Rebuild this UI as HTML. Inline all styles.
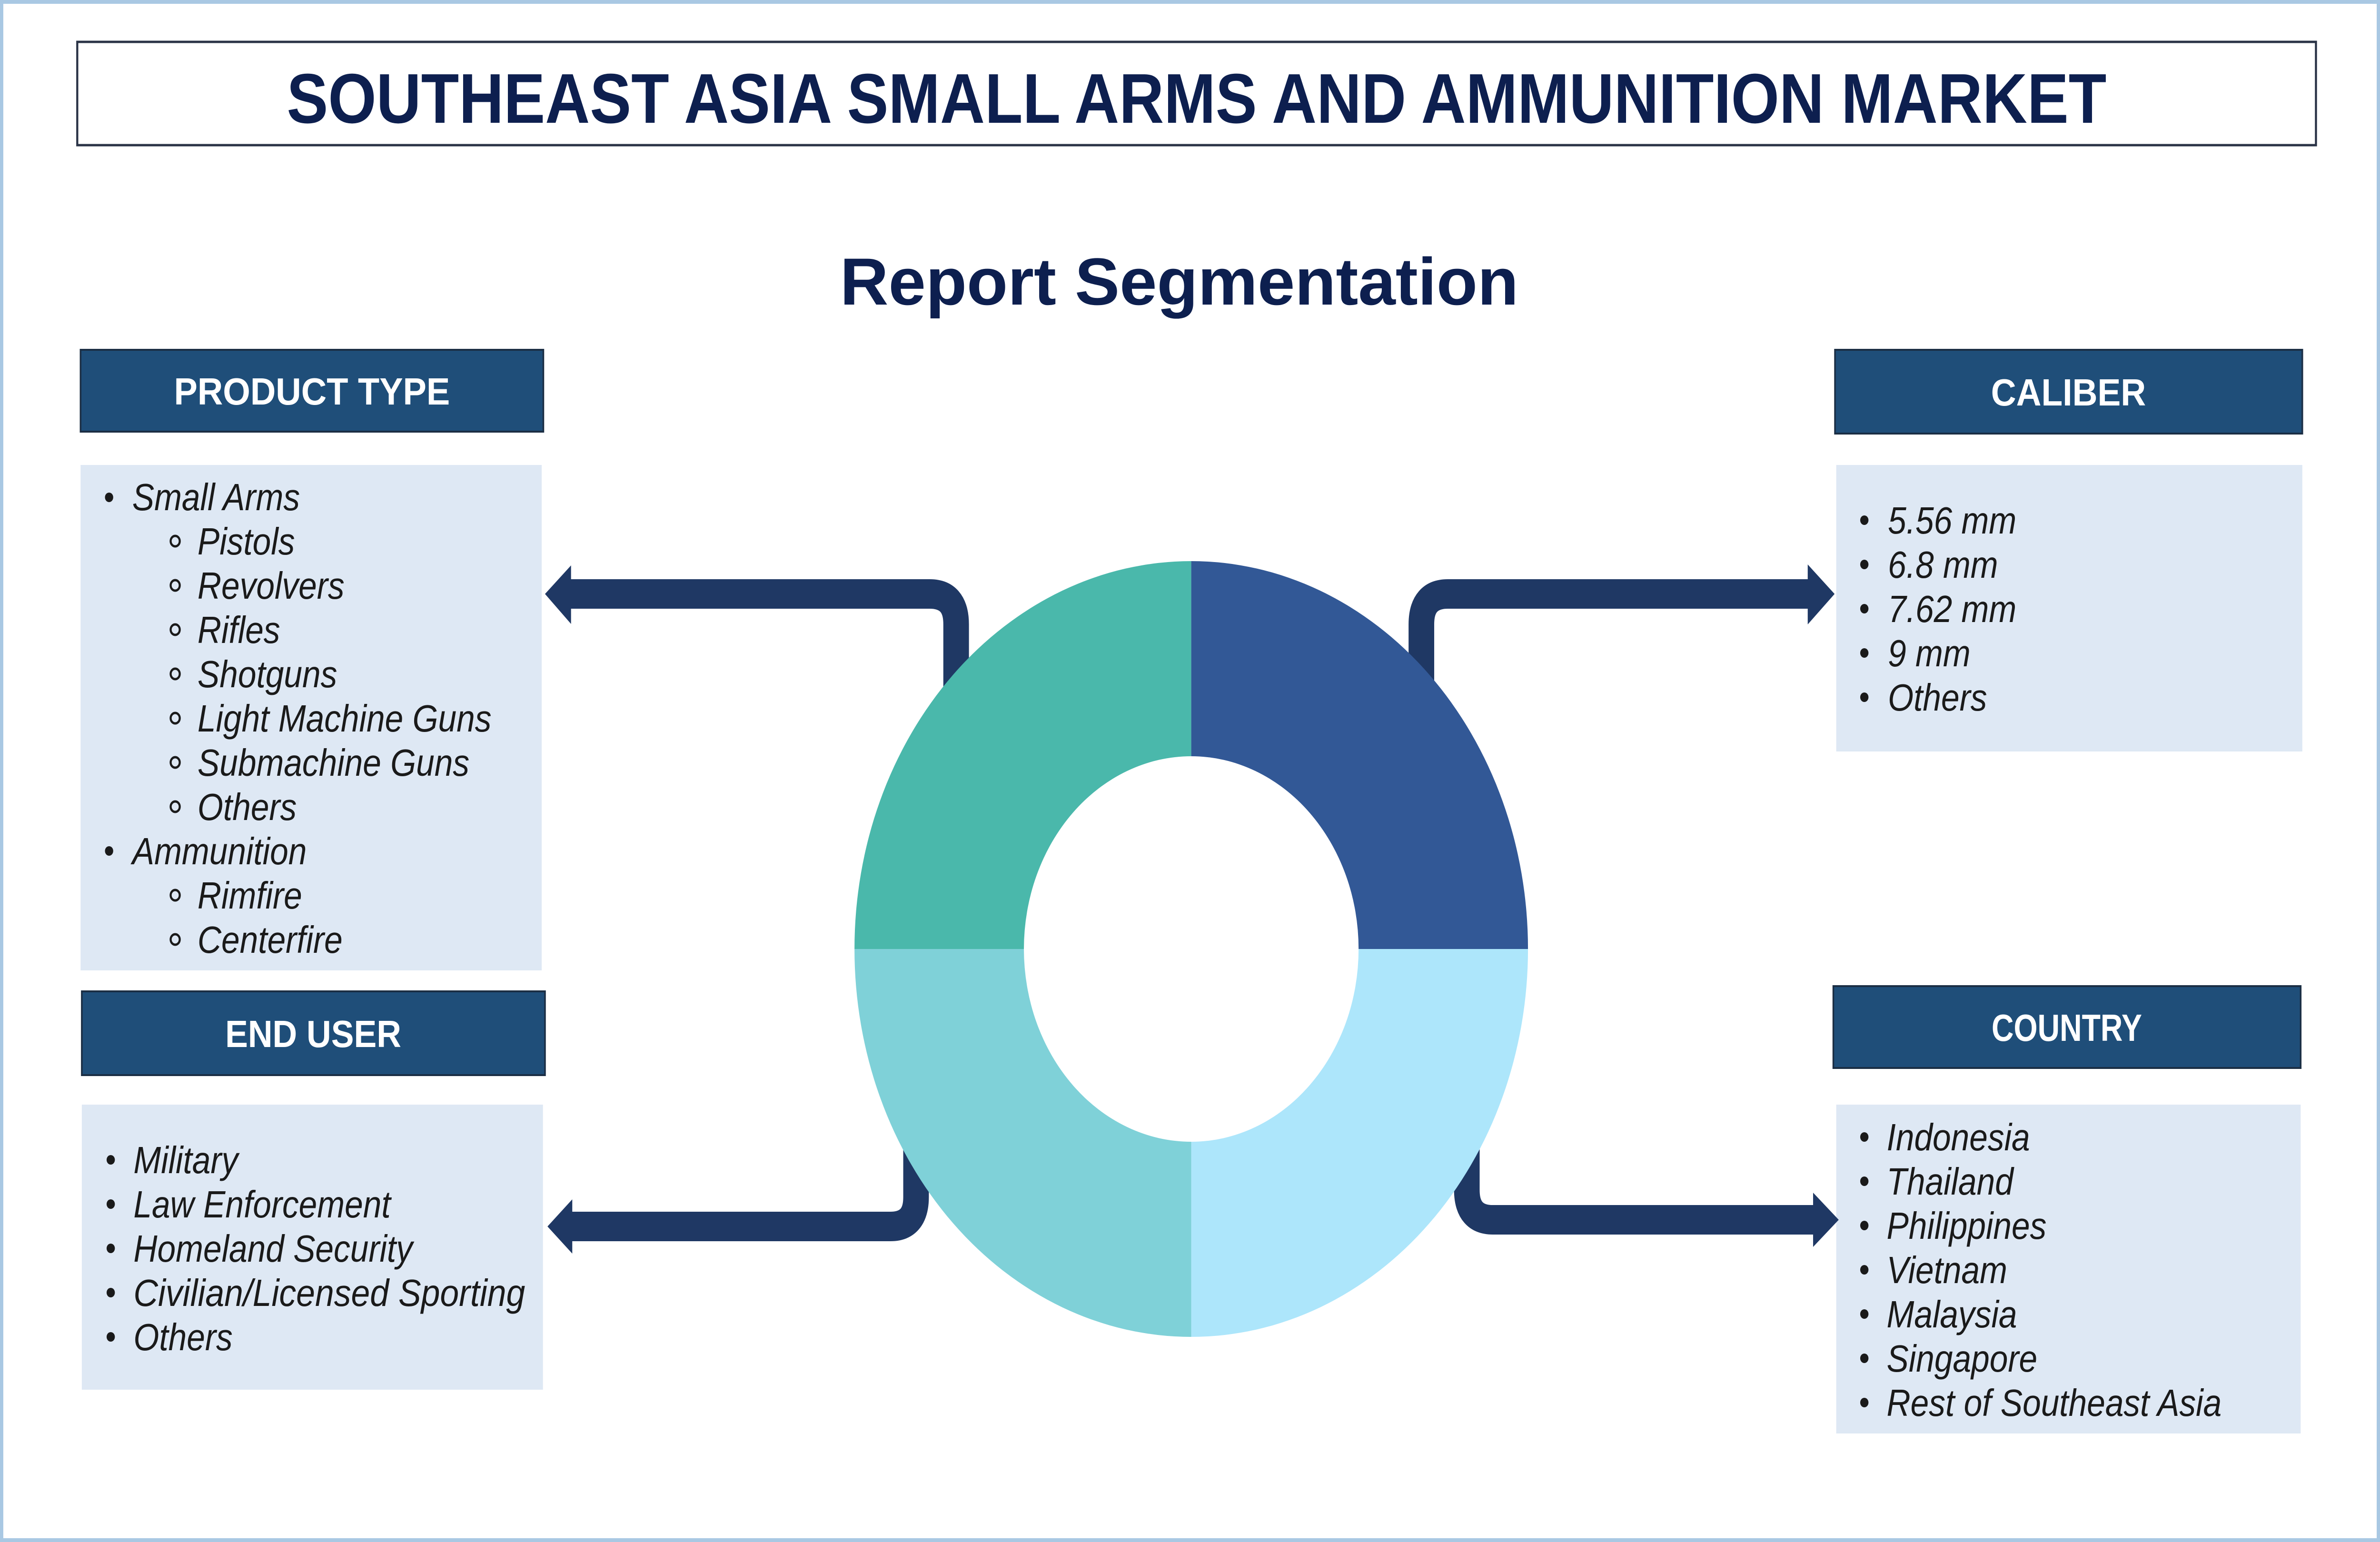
<!DOCTYPE html>
<html><head><meta charset="utf-8"><style>
html,body{margin:0;padding:0;background:#fff;width:100%;height:100%;overflow:hidden;}
svg{display:block;width:100vw;height:100vh;}
.li{font-family:"Liberation Sans",sans-serif;font-style:italic;font-size:80px;fill:#1a1a1a;}
.hd{font-family:"Liberation Sans",sans-serif;font-weight:bold;font-size:80px;fill:#fff;}
</style></head><body>
<svg viewBox="0 0 5760 3240" preserveAspectRatio="none" xmlns="http://www.w3.org/2000/svg">
<rect x="4" y="4" width="5752" height="3232" fill="#fff" stroke="#a9c8e3" stroke-width="8"/>
<rect x="187" y="88" width="5418" height="217" fill="#fff" stroke="#2a3346" stroke-width="5"/>
<text x="2896" y="258" text-anchor="middle" font-family="Liberation Sans, sans-serif" font-weight="bold" font-size="148" fill="#0d1f4f" textLength="4404" lengthAdjust="spacingAndGlyphs">SOUTHEAST ASIA SMALL ARMS AND AMMUNITION MARKET</text>
<text x="2854" y="640" text-anchor="middle" font-family="Liberation Sans, sans-serif" font-weight="bold" font-size="140" fill="#0d1f4f" textLength="1642" lengthAdjust="spacingAndGlyphs">Report Segmentation</text>

<rect x="195" y="735" width="1120" height="172" fill="#1f4e79" stroke="#1b2e44" stroke-width="4"/>
<text class="hd" x="755" y="850" text-anchor="middle" textLength="668" lengthAdjust="spacingAndGlyphs">PRODUCT TYPE</text>
<rect x="198" y="2083" width="1121" height="176" fill="#1f4e79" stroke="#1b2e44" stroke-width="4"/>
<text class="hd" x="758" y="2200" text-anchor="middle" textLength="426" lengthAdjust="spacingAndGlyphs">END USER</text>
<rect x="4441" y="735" width="1131" height="176" fill="#1f4e79" stroke="#1b2e44" stroke-width="4"/>
<text class="hd" x="5006" y="852" text-anchor="middle" textLength="375" lengthAdjust="spacingAndGlyphs">CALIBER</text>
<rect x="4437" y="2072" width="1131" height="172" fill="#1f4e79" stroke="#1b2e44" stroke-width="4"/>
<text class="hd" x="5002" y="2187" text-anchor="middle" textLength="364" lengthAdjust="spacingAndGlyphs">COUNTRY</text>

<rect x="195" y="977" width="1116" height="1062" fill="#dee8f4"/>
<rect x="198" y="2321" width="1116" height="599" fill="#dee8f4"/>
<rect x="4444" y="977" width="1128" height="602" fill="#dee8f4"/>
<rect x="4444" y="2321" width="1124" height="691" fill="#dee8f4"/>

<g class="li">
<circle cx="264" cy="1045" r="10" fill="#1a1a1a"/><text x="320" y="1072">Small Arms</text>
<g fill="none" stroke="#1a1a1a" stroke-width="5">
<circle cx="424" cy="1137" r="11"/><circle cx="424" cy="1230" r="11"/><circle cx="424" cy="1323" r="11"/><circle cx="424" cy="1416" r="11"/><circle cx="424" cy="1509" r="11"/><circle cx="424" cy="1602" r="11"/><circle cx="424" cy="1695" r="11"/><circle cx="424" cy="1881" r="11"/><circle cx="424" cy="1974" r="11"/>
</g>
<text x="478" y="1165">Pistols</text>
<text x="478" y="1258">Revolvers</text>
<text x="478" y="1351">Rifles</text>
<text x="478" y="1444">Shotguns</text>
<text x="478" y="1537">Light Machine Guns</text>
<text x="478" y="1630">Submachine Guns</text>
<text x="478" y="1723">Others</text>
<circle cx="264" cy="1788" r="10" fill="#1a1a1a"/><text x="320" y="1816">Ammunition</text>
<text x="478" y="1909">Rimfire</text>
<text x="478" y="2002">Centerfire</text>
</g>

<g class="li">
<circle cx="268" cy="2437" r="10"/><text x="323" y="2465">Military</text>
<circle cx="268" cy="2530" r="10"/><text x="323" y="2558">Law Enforcement</text>
<circle cx="268" cy="2623" r="10"/><text x="323" y="2651">Homeland Security</text>
<circle cx="268" cy="2716" r="10"/><text x="323" y="2744" textLength="948" lengthAdjust="spacingAndGlyphs">Civilian/Licensed Sporting</text>
<circle cx="268" cy="2809" r="10"/><text x="323" y="2837">Others</text>
</g>

<g class="li">
<circle cx="4512" cy="1093" r="10"/><text x="4569" y="1121">5.56 mm</text>
<circle cx="4512" cy="1186" r="10"/><text x="4569" y="1214">6.8 mm</text>
<circle cx="4512" cy="1279" r="10"/><text x="4569" y="1307">7.62 mm</text>
<circle cx="4512" cy="1372" r="10"/><text x="4569" y="1400">9 mm</text>
<circle cx="4512" cy="1465" r="10"/><text x="4569" y="1493">Others</text>
</g>

<g class="li">
<circle cx="4512" cy="2389" r="10"/><text x="4566" y="2417">Indonesia</text>
<circle cx="4512" cy="2482" r="10"/><text x="4566" y="2510">Thailand</text>
<circle cx="4512" cy="2575" r="10"/><text x="4566" y="2603">Philippines</text>
<circle cx="4512" cy="2668" r="10"/><text x="4566" y="2696">Vietnam</text>
<circle cx="4512" cy="2761" r="10"/><text x="4566" y="2789">Malaysia</text>
<circle cx="4512" cy="2854" r="10"/><text x="4566" y="2882">Singapore</text>
<circle cx="4512" cy="2947" r="10"/><text x="4566" y="2975">Rest of Southeast Asia</text>
</g>

<g fill="none" stroke="#1f3864" stroke-width="62">
<path d="M1375,1248 H2250 Q2314,1248 2314,1312 V1520"/>
<path d="M3440,1520 V1312 Q3440,1248 3504,1248 H4385"/>
<path d="M3550,2300 V2500 Q3550,2563 3613,2563 H4395"/>
<path d="M2217,2300 V2515 Q2217,2577 2155,2577 H1380"/>
</g>
<g fill="#1f3864">
<polygon points="1319,1248 1382,1188 1382,1311"/>
<polygon points="4440,1248 4375,1186 4375,1312"/>
<polygon points="4450,2563 4388,2506 4388,2620"/>
<polygon points="1325,2577 1385,2520 1385,2634"/>
</g>

<path d="M2068,1994 A815,815 0 0 1 2883,1179 L2883,1589 A405,405 0 0 0 2478,1994 Z" fill="#4ab8ab"/>
<path d="M2883,1179 A815,815 0 0 1 3698,1994 L3288,1994 A405,405 0 0 0 2883,1589 Z" fill="#325896"/>
<path d="M3698,1994 A815,815 0 0 1 2883,2809 L2883,2399 A405,405 0 0 0 3288,1994 Z" fill="#ade6fb"/>
<path d="M2883,2809 A815,815 0 0 1 2068,1994 L2478,1994 A405,405 0 0 0 2883,2399 Z" fill="#7fd1d8"/>
</svg>
</body></html>
